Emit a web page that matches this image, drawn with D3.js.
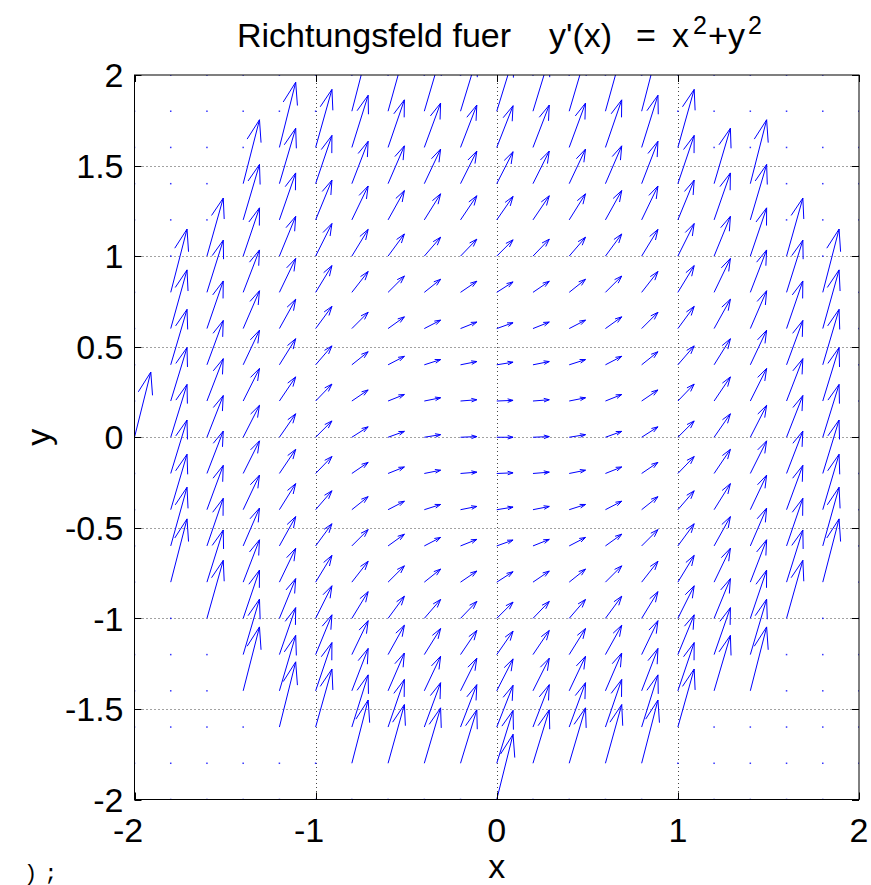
<!DOCTYPE html>
<html>
<head>
<meta charset="utf-8">
<script src="https://cdn.jsdelivr.net/npm/d3@7"></script>
<style>
  html, body { margin: 0; padding: 0; background: #fff; }
  svg { display: block; }
</style>
</head>
<body>
<div id="chart"></div>
<script>
// ---- data ----
const titleParts = ["Richtungsfeld fuer", "y'(x)", "=", "x", "2", "+", "y", "2"];
const xLabel = "x";
const yLabel = "y";
const xTicks = [-2, -1, 0, 1, 2];
const xTickLabels = ["-2", "-1", "0", "1", "2"];
const yTicks = [-2, -1.5, -1, -0.5, 0, 0.5, 1, 1.5, 2];
const yTickLabels = ["-2", "-1.5", "-1", "-0.5", "0", "0.5", "1", "1.5", "2"];
const xGrid = [-2, -1.8, -1.6, -1.4, -1.2, -1, -0.8, -0.6, -0.4, -0.2, 0, 0.2, 0.4, 0.6, 0.8, 1, 1.2, 1.4, 1.6, 1.8, 2];
const yGrid = [2, 1.8, 1.6, 1.4, 1.2, 1, 0.8, 0.6, 0.4, 0.2, 0, -0.2, -0.4, -0.6, -0.8, -1, -1.2, -1.4, -1.6, -1.8, -2];
const N = null; // grid point drawn as a bare dot (no arrow)
// slope y' at each grid point (row = yGrid, column = xGrid)
const slopes = [
  [N,N,N,N,N,N,N,N,N,N,4,N,N,N,N,N,N,N,N,N,N],
  [N,N,N,N,N,N,3.88,3.6,3.4,3.28,3.24,3.28,3.4,3.6,3.88,N,N,N,N,N,N],
  [N,N,N,N,4,3.56,3.2,2.92,2.72,2.6,2.56,2.6,2.72,2.92,3.2,3.56,N,N,N,N,N],
  [N,N,N,3.92,3.4,2.96,2.6,2.32,2.12,2,1.96,2,2.12,2.32,2.6,2.96,3.4,3.92,N,N,N],
  [N,N,N,3.4,2.88,2.44,2.08,1.8,1.6,1.48,1.44,1.48,1.6,1.8,2.08,2.44,2.88,3.4,N,N,N],
  [N,N,3.56,2.96,2.44,2,1.64,1.36,1.16,1.04,1,1.04,1.16,1.36,1.64,2,2.44,2.96,3.56,N,N],
  [N,3.88,3.2,2.6,2.08,1.64,1.28,1,0.8,0.68,0.64,0.68,0.8,1,1.28,1.64,2.08,2.6,3.2,3.88,N],
  [N,3.6,2.92,2.32,1.8,1.36,1,0.72,0.52,0.4,0.36,0.4,0.52,0.72,1,1.36,1.8,2.32,2.92,3.6,N],
  [N,3.4,2.72,2.12,1.6,1.16,0.8,0.52,0.32,0.2,0.16,0.2,0.32,0.52,0.8,1.16,1.6,2.12,2.72,3.4,N],
  [N,3.28,2.6,2,1.48,1.04,0.68,0.4,0.2,0.08,0.04,0.08,0.2,0.4,0.68,1.04,1.48,2,2.6,3.28,N],
  [4,3.24,2.56,1.96,1.44,1,0.64,0.36,0.16,0.04,0,0.04,0.16,0.36,0.64,1,1.44,1.96,2.56,3.24,4],
  [N,3.28,2.6,2,1.48,1.04,0.68,0.4,0.2,0.08,0.04,0.08,0.2,0.4,0.68,1.04,1.48,2,2.6,3.28,N],
  [N,3.4,2.72,2.12,1.6,1.16,0.8,0.52,0.32,0.2,0.16,0.2,0.32,0.52,0.8,1.16,1.6,2.12,2.72,3.4,N],
  [N,3.6,2.92,2.32,1.8,1.36,1,0.72,0.52,0.4,0.36,0.4,0.52,0.72,1,1.36,1.8,2.32,2.92,3.6,N],
  [N,3.88,3.2,2.6,2.08,1.64,1.28,1,0.8,0.68,0.64,0.68,0.8,1,1.28,1.64,2.08,2.6,3.2,3.88,N],
  [N,N,3.56,2.96,2.44,2,1.64,1.36,1.16,1.04,1,1.04,1.16,1.36,1.64,2,2.44,2.96,3.56,N,N],
  [N,N,N,3.4,2.88,2.44,2.08,1.8,1.6,1.48,1.44,1.48,1.6,1.8,2.08,2.44,2.88,3.4,N,N,N],
  [N,N,N,3.92,3.4,2.96,2.6,2.32,2.12,2,1.96,2,2.12,2.32,2.6,2.96,3.4,3.92,N,N,N],
  [N,N,N,N,4,3.56,3.2,2.92,2.72,2.6,2.56,2.6,2.72,2.92,3.2,3.56,N,N,N,N,N],
  [N,N,N,N,N,N,3.88,3.6,3.4,3.28,3.24,3.28,3.4,3.6,3.88,N,N,N,N,N,N],
  [N,N,N,N,N,N,N,N,N,N,4,N,N,N,N,N,N,N,N,N,N]
];
const footerText = ");";

// ---- layout ----
const W = 871, H = 885;
const plot = { left: 134.5, right: 859, top: 75, bottom: 799.5 };
const arrowScale = 0.09;      // data units per unit of (1, slope)
const headLen = 0.33, headWidth = 0.33;
const blue = "#0000ff";
const font = "'Liberation Sans', Arial, Helvetica, sans-serif";

const svg = d3.select("#chart").append("svg").attr("width", W).attr("height", H);

const x = d3.scaleLinear().domain([-2, 2]).range([plot.left, plot.right]);
const y = d3.scaleLinear().domain([-2, 2]).range([plot.bottom, plot.top]);

svg.append("defs").append("clipPath").attr("id", "clip")
  .append("rect").attr("x", plot.left).attr("y", plot.top)
  .attr("width", plot.right - plot.left).attr("height", plot.bottom - plot.top);

// grid lines (dotted)
const grid = svg.append("g");
grid.selectAll("line.gx").data(xTicks.slice(1, -1)).join("line")
  .attr("x1", d => Math.round(x(d)) + 0.5).attr("x2", d => Math.round(x(d)) + 0.5)
  .attr("y1", plot.top).attr("y2", plot.bottom)
  .attr("stroke", "#444").attr("stroke-width", 1).attr("stroke-dasharray", "1,3");
grid.selectAll("line.gy").data(yTicks.slice(1, -1)).join("line")
  .attr("y1", d => Math.round(y(d)) + 0.5).attr("y2", d => Math.round(y(d)) + 0.5)
  .attr("x1", plot.left).attr("x2", plot.right)
  .attr("stroke", "#444").attr("stroke-width", 1).attr("stroke-dasharray", "1,3");

// build quiver items
const items = [];
yGrid.forEach((yv, i) => {
  xGrid.forEach((xv, j) => {
    items.push({ x: xv, y: yv, s: slopes[i][j] });
  });
});

const field = svg.append("g").attr("clip-path", "url(#clip)");
const line = d3.line().x(d => x(d[0])).y(d => y(d[1]));

const arrows = items.filter(d => d.s !== null);
field.selectAll("path.shaft").data(arrows).join("path")
  .attr("d", d => {
    const u = arrowScale, v = arrowScale * d.s;
    return line([[d.x, d.y], [d.x + u, d.y + v]]);
  })
  .attr("fill", "none").attr("stroke", blue).attr("stroke-width", 1);
field.selectAll("path.head").data(arrows).join("path")
  .attr("d", d => {
    const u = arrowScale, v = arrowScale * d.s;
    const tx = d.x + u, ty = d.y + v;
    return line([
      [tx - headLen * (u + headWidth * v), ty - headLen * (v - headWidth * u)],
      [tx, ty],
      [tx - headLen * (u - headWidth * v), ty - headLen * (v + headWidth * u)]
    ]);
  })
  .attr("fill", "none").attr("stroke", blue).attr("stroke-width", 1);

field.selectAll("rect.dot").data(items.filter(d => d.s === null)).join("rect")
  .attr("x", d => x(d.x) - 0.75).attr("y", d => y(d.y) - 0.75)
  .attr("width", 1.5).attr("height", 1.5).attr("fill", blue).attr("opacity", 0.8);

// ticks (inside, both sides)
const tickLen = 7;
const ticks = svg.append("g").attr("stroke", "#000").attr("stroke-width", 1);
xTicks.forEach(t => {
  const px = Math.round(x(t)) + 0.5;
  ticks.append("line").attr("x1", px).attr("x2", px).attr("y1", plot.bottom).attr("y2", plot.bottom - tickLen);
  ticks.append("line").attr("x1", px).attr("x2", px).attr("y1", plot.top).attr("y2", plot.top + tickLen);
});
yTicks.forEach(t => {
  const py = Math.round(y(t)) + 0.5;
  ticks.append("line").attr("y1", py).attr("y2", py).attr("x1", plot.left).attr("x2", plot.left + tickLen);
  ticks.append("line").attr("y1", py).attr("y2", py).attr("x1", plot.right).attr("x2", plot.right - tickLen);
});

// frame
svg.append("rect").attr("x", plot.left).attr("y", plot.top)
  .attr("width", plot.right - plot.left).attr("height", plot.bottom - plot.top)
  .attr("fill", "none").attr("stroke", "#000").attr("stroke-width", 1);

// tick labels (digits centred on the tick, minus sign hanging left)
const fs = 34;
svg.append("g").selectAll("text").data(xTicks).join("text")
  .attr("x", d => x(d) - (d < 0 ? 6.5 : 0)).attr("y", plot.bottom + 42)
  .attr("text-anchor", "middle").attr("font-family", font).attr("font-size", fs)
  .text((d, i) => xTickLabels[i]);
svg.append("g").selectAll("text").data(yTicks).join("text")
  .attr("x", plot.left - 11).attr("y", d => y(d))
  .attr("dy", "0.36em")
  .attr("text-anchor", "end").attr("font-family", font).attr("font-size", fs)
  .text((d, i) => yTickLabels[i]);

// axis labels
svg.append("text").attr("x", (plot.left + plot.right) / 2).attr("y", 878)
  .attr("text-anchor", "middle").attr("font-family", font).attr("font-size", fs)
  .text(xLabel);
svg.append("text").attr("transform", `translate(50,${(plot.top + plot.bottom) / 2}) rotate(-90)`)
  .attr("text-anchor", "middle").attr("font-family", font).attr("font-size", fs)
  .text(yLabel);

// title with superscripts, pieces placed as in the reference
const titleX = [237, 549, 636, 672, 693, 708, 728, 748];
const titleSup = [false, false, false, false, true, false, false, true];
const tg = svg.append("g").attr("font-family", font);
titleParts.forEach((t, i) => {
  tg.append("text").attr("x", titleX[i]).attr("y", titleSup[i] ? 34 : 47)
    .attr("font-size", titleSup[i] ? 25 : 34).text(t);
});

// stray text at bottom-left
svg.append("text").attr("x", 24).attr("y", 880)
  .attr("font-family", "'Liberation Mono', 'DejaVu Sans Mono', monospace").attr("font-size", 22)
  .attr("letter-spacing", 7)
  .text(footerText);
</script>
</body>
</html>
